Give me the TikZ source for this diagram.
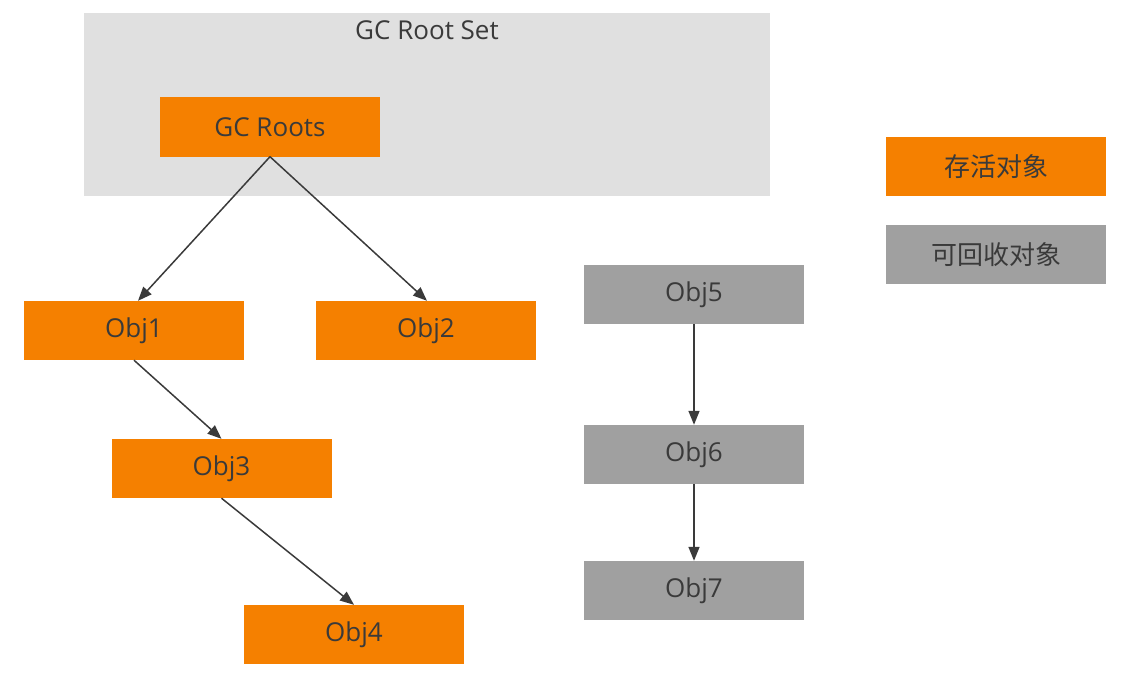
\documentclass[tikz,border=0pt]{standalone}
\usepackage{fontspec}
\setmainfont{Open Sans}
\newfontfamily\cjk{Noto Sans CJK SC}
\usetikzlibrary{arrows.meta}
\definecolor{live}{HTML}{F58000}
\definecolor{dead}{HTML}{A0A0A0}
\definecolor{setbg}{HTML}{E0E0E0}
\definecolor{ink}{HTML}{3A3A3A}
\begin{document}
\begin{tikzpicture}[x=1pt,y=-1pt,
  box/.style={minimum width=220pt,minimum height=59pt,inner sep=0pt,text=ink,font=\fontsize{26}{30}\selectfont},
  livebox/.style={box,fill=live},
  deadbox/.style={box,fill=dead},
  conn/.style={draw=ink,line width=1.5pt,-{Triangle[length=14pt,width=11pt]}}]
\useasboundingbox (0,0) rectangle (1126,674);
\fill[setbg] (84,13) rectangle (770,196);
\node[text=ink,font=\fontsize{26}{30}\selectfont] (title) at (427,30) {GC Root Set};
\node[livebox] (roots) at (270,127) {GC Roots};
\node[livebox] (o1) at (134,330.5) {Obj1};
\node[livebox] (o2) at (426,330.5) {Obj2};
\node[livebox] (o3) at (221.5,468.5) {Obj3};
\node[livebox] (o4) at (354,634.5) {Obj4};
\node[deadbox] (o5) at (694,294.5) {Obj5};
\node[deadbox] (o6) at (694,454.5) {Obj6};
\node[deadbox] (o7) at (694,590.5) {Obj7};
\node[livebox] (l1) at (996,166.5) {\cjk 存活对象};
\node[deadbox] (l2) at (996,254.5) {\cjk 可回收对象};
\coordinate (r) at (roots.south);
\draw[conn] (r) -- ([xshift=4pt]o1.north);
\draw[conn] (r) -- ([xshift=1pt]o2.north);
\draw[conn] (o1.south) -- (o3.north);
\draw[conn] (o3.south) -- (o4.north);
\draw[conn] (o5.south) -- (o6.north);
\draw[conn] (o6.south) -- (o7.north);
\end{tikzpicture}
\end{document}
